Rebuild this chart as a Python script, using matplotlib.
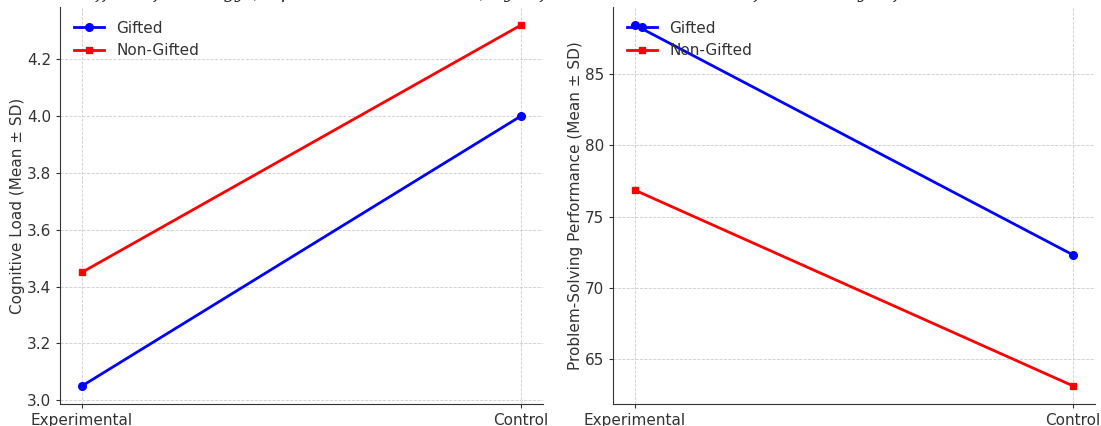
import matplotlib
matplotlib.use("Agg")
import matplotlib.pyplot as plt

# data
conditions = ["Experimental", "Control"]
load_gifted = [3.05, 4.00]
load_nongifted = [3.45, 4.32]
perf_gifted = [88.45, 72.3]
perf_nongifted = [76.85, 63.1]

plt.rcParams.update({
    "font.family": "DejaVu Sans",
    "font.size": 11,
    "axes.edgecolor": "#333333",
    "axes.labelcolor": "#333333",
    "xtick.color": "#333333",
    "ytick.color": "#333333",
    "xtick.labelsize": 11,
    "ytick.labelsize": 11,
})

fig = plt.figure(figsize=(11.01, 4.26), dpi=100)
ax1 = fig.add_axes([0.0545, 0.0516, 0.4387, 0.932])
ax2 = fig.add_axes([0.5568, 0.0516, 0.4378, 0.932])

panels = [
    (ax1, load_gifted, load_nongifted, "Cognitive Load (Mean ± SD)",
     "Interaction Effect of Strategy (Experimental vs Control) by Giftedness"),
    (ax2, perf_gifted, perf_nongifted, "Problem-Solving Performance (Mean ± SD)",
     "Performance by Giftedness"),
]

for ax, gifted, nongifted, ylabel, title in panels:
    ax.plot(conditions, gifted, color="blue", marker="o", markersize=5.5,
            linewidth=2, label="Gifted")
    ax.plot(conditions, nongifted, color="red", marker="s", markersize=5,
            linewidth=2, label="Non-Gifted")
    ax.set_ylabel(ylabel, labelpad=1)
    ax.grid(True, linestyle="--", color="#cccccc", linewidth=0.6)
    ax.set_axisbelow(True)
    for side in ["top", "right"]:
        ax.spines[side].set_visible(False)
    ax.tick_params(direction="out", length=3)
    ax.legend(loc="upper left", frameon=False, labelcolor="#333333")

# titles sit just above the figure edge; only their descenders show
fig.text(0.27, 1.0 + 2.0 / 426, panels[0][4], ha="center", va="baseline",
         family="DejaVu Serif", style="italic", fontsize=13, color="#222222")
fig.text(0.77, 1.0 + 2.0 / 426, panels[1][4], ha="center", va="baseline",
         family="DejaVu Serif", style="italic", fontsize=13, color="#222222")

fig.savefig("out.png", dpi=100)
